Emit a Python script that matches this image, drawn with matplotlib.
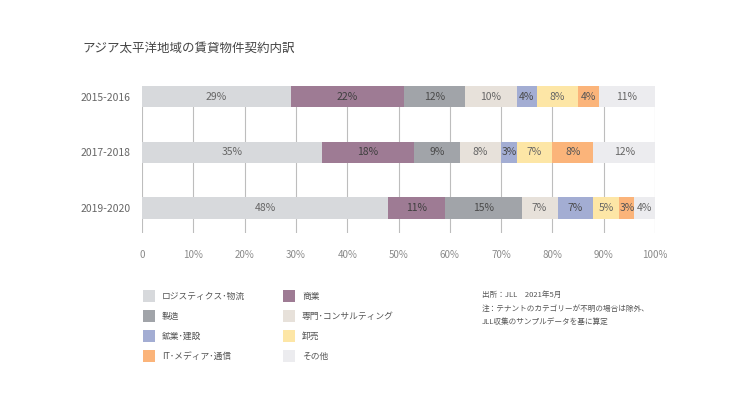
import matplotlib
matplotlib.use('Agg')
import matplotlib.pyplot as plt
import numpy as np
from matplotlib.patches import Rectangle

plt.rcParams['font.family'] = ['Noto Sans CJK JP', 'DejaVu Sans']

# データ
periods = ['2015-2016', '2017-2018', '2019-2020']
categories = ['ロジスティクス･物流', '商業', '製造', '専門･コンサルティング',
              '鉱業･建設', '卸売', 'IT･メディア･通信', 'その他']
logistics = [29, 35, 48]
commerce = [22, 18, 11]
manufacturing = [12, 9, 15]
professional = [10, 8, 7]
mining = [4, 3, 7]
wholesale = [8, 7, 5]
it_media = [4, 8, 3]
other = [11, 12, 4]
x_ticks = [0, 10, 20, 30, 40, 50, 60, 70, 80, 90, 100]
x_tick_labels = ['0', '10%', '20%', '30%', '40%', '50%', '60%', '70%', '80%', '90%', '100%']

series = [logistics, commerce, manufacturing, professional, mining, wholesale, it_media, other]
colors = ['#d7d9dc', '#9e7b94', '#a1a4a9', '#e7e1da', '#a3add3', '#fde6a6', '#fbb47a', '#ececef']
# 濃い色のバー上だけ文字を濃くする
text_colors = ['#666666', '#3f3f3f', '#4a4a4a', '#666666', '#4a4a4a', '#666666', '#555555', '#666666']

fig = plt.figure(figsize=(7.44, 4.18), dpi=100)
ax = fig.add_axes([0.1909, 0.4426, 0.6895, 0.3517])

y = np.arange(len(periods))
left = np.zeros(len(periods))
for vals, col, tcol in zip(series, colors, text_colors):
    vals = np.array(vals, dtype=float)
    bars = ax.barh(y, vals, left=left, height=0.38, color=col, zorder=2, linewidth=0)
    for b, v in zip(bars, vals):
        cx = b.get_x() + b.get_width() / 2
        ax.text(cx, b.get_y() + b.get_height() / 2, f'{int(v)}%', ha='center', va='center',
                fontsize=7.5, color=tcol, zorder=3)
    left += vals

ax.set_xlim(0, 100)
ax.set_ylim(2.45, -0.19)
for xv in x_ticks:
    ax.axvline(xv, color='#bdbdbd', linewidth=0.8, zorder=1)

ax.set_xticks(x_ticks)
ax.set_xticklabels(x_tick_labels, fontsize=7, color='#8a8a8a')
ax.set_yticks(y)
ax.set_yticklabels(periods, fontsize=7.5, color='#666666')
ax.tick_params(axis='both', length=0)
ax.tick_params(axis='x', pad=12)
ax.tick_params(axis='y', pad=8)
for s in ax.spines.values():
    s.set_visible(False)

# タイトル
fig.text(82 / 744, 1 - 48 / 418, 'アジア太平洋地域の賃貸物件契約内訳', fontsize=9,
         color='#444444', va='center', ha='left')

# 凡例
col_x = [143, 283]
row_y = [296, 316, 336, 356]
order = [0, 2, 4, 6, 1, 3, 5, 7]
for i, idx in enumerate(order):
    cx = col_x[i // 4]
    ry = row_y[i % 4]
    fig.add_artist(Rectangle((cx / 744, 1 - (ry + 6) / 418), 12 / 744, 12 / 418,
                             transform=fig.transFigure, color=colors[idx], linewidth=0))
    fig.text((cx + 19) / 744, 1 - ry / 418, categories[idx], fontsize=6.3,
             color='#555555', va='center', ha='left')

# 注記
notes = ['出所：JLL　2021年5月',
         '注：テナントのカテゴリーが不明の場合は除外、',
         'JLL収集のサンプルデータを基に算定']
for i, t in enumerate(notes):
    fig.text(482 / 744, 1 - (295 + i * 13.5) / 418, t, fontsize=5.5,
             color='#555555', va='center', ha='left')

fig.savefig('out.png', dpi=100, facecolor='white')
